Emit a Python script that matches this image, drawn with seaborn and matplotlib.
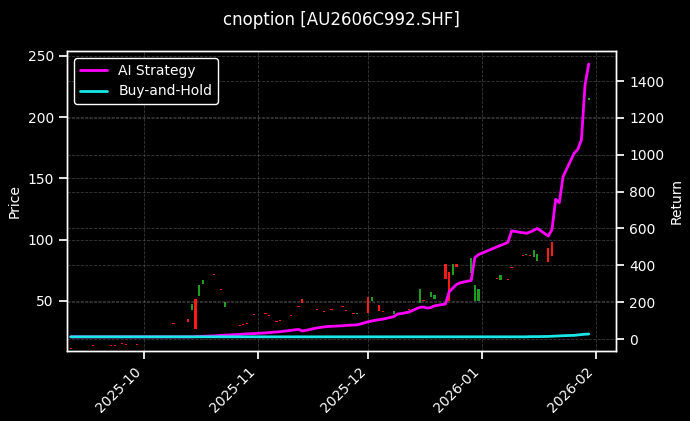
import matplotlib
matplotlib.use("Agg")
import matplotlib.pyplot as plt
import matplotlib.dates as mdates
import numpy as np
import pandas as pd
import seaborn as sns

# exchange holidays that fall on weekdays in the window
HOLIDAYS = ["2025-10-01", "2025-10-02", "2025-10-03", "2025-10-06",
            "2025-10-07", "2025-10-08", "2026-01-01", "2026-01-02"]

# candle bodies (None = no quote that day), one entry per trading day
candle_open = [
    # Sep 11 .. Sep 30
    10.5, None, None, None, 13.5, None, None, 13.5, 13.5, None, 15, 14, 14, None,
    # Oct 9 .. Oct 31
    31, None, 35, 43, 52, 54, 64, 71, None, 59, 45, None, 30, 30.5, 31, None, 38.5,
    # Nov 3 .. Nov 28
    39.6, 37.6, None, 32.6, 33.5, 38, None, 45, 52, None,
    43, None, 41, None, 42.7, 45, 41.5, None, 39.6, 39,
    # Dec 1 .. Dec 31
    53, 49.7, None, 46.7, 41, 39.6, None, None, None, 43, 48.4, 50,
    None, 53.5, 52, 80, 74, 71.6, 80.6, None, 72.8, 49.7, 49.7,
    # Jan 5 .. Jan 30
    68, 66.8, None, 67, 77, 86.6, 87.5, 87, 85.8, 82.6, 93, 98.4,
    None, None, None, None, None, None, None, 214,
]
candle_close = [
    10.5, None, None, None, 13.5, None, None, 13.5, 13.5, None, 15, 14, 14, None,
    31, None, 33, 47.5, 27, 63, 67, 71, None, 59, 49, None, 30, 30.5, 31, None, 38.5,
    39.6, 37.6, None, 32.6, 33.5, 38, None, 45, 48, None,
    43, None, 41, None, 42.7, 45, 41.5, None, 39.6, 40.5,
    40.5, 53, None, 41.5, 41, 41.5, None, None, None, 43, 60, 50,
    None, 57.6, 54.5, 68, 49.7, 80.6, 78, None, 85, 63, 60,
    68, 71.4, None, 67, 77, 86.6, 88.5, 87, 91.5, 88, 81.5, 86.5,
    None, None, None, None, None, None, None, 216,
]

ai_return = [
    12, 12, 12, 12, 12, 12, 12, 12, 12, 12, 12, 12, 12, 12,
    12, 12, 12, 12, 13, 14, 15, 17, 18, 20, 21, 22, 25, 27, 28, 29, 30,
    33, 35, 37, 38, 40, 47, 50, 52, 44, 47, 60, 63, 66, 68, 69, 72, 74, 75, 76, 77,
    94, 98, 102, 105, 108, 122, 136, 138, 142, 146, 172, 174, 168, 171, 180,
    190, 256, 276, 296, 305, 318, 442, 458,
    500, 508, 516, 525, 587, 577, 574, 580, 590, 600, 559, 595,
    758, 740, 881, 1007, 1029, 1080, 1380, 1492,
]
bh_return = [
    12, 12, 12, 12, 12, 12, 12, 12, 12, 12, 12, 12, 12, 12,
    12, 12, 12, 12, 12, 12, 12, 12, 12, 12, 12, 12, 12, 12, 12, 12, 12,
    12, 12, 12, 12, 12, 12, 12, 12, 12, 12, 12, 12, 12, 12, 12, 12, 12, 12, 12, 12,
    12, 12, 12, 12, 12, 12, 12, 12, 12, 12, 12, 12, 12, 12, 12,
    12, 12, 12, 12, 12, 12, 12, 12,
    12, 12, 12, 12, 12, 12, 12, 13, 13, 13, 14, 15,
    16, 17, 18, 20, 22, 24, 26, 27,
]

TITLE = "cnoption [AU2606C992.SHF]"

trade_dates = pd.bdate_range("2025-09-11", "2026-01-30")
trade_dates = trade_dates[~trade_dates.isin(pd.to_datetime(HOLIDAYS))]

df = pd.DataFrame({
    "date": trade_dates,
    "open": pd.to_numeric(pd.Series(candle_open), errors="coerce"),
    "close": pd.to_numeric(pd.Series(candle_close), errors="coerce"),
    "ai": ai_return,
    "bh": bh_return,
})

sns.set_theme(style="ticks", rc={
    "figure.facecolor": "black",
    "axes.facecolor": "black",
    "axes.edgecolor": "white",
    "axes.labelcolor": "white",
    "text.color": "white",
    "xtick.color": "white",
    "ytick.color": "white",
    "axes.linewidth": 1.0,
    "xtick.labelsize": 10,
    "ytick.labelsize": 10,
    "axes.labelsize": 10,
    "legend.fontsize": 10,
})
plt.rcParams["font.family"] = ["DejaVu Sans"]

fig, ax = plt.subplots(figsize=(6.9, 4.21), dpi=100)
fig.subplots_adjust(left=67 / 690, right=616 / 690, top=1 - 51 / 421, bottom=1 - 351 / 421)

# candlestick bodies on the price axis
candles = df.dropna(subset=["open", "close"])
up = candles["close"] > candles["open"]
body_low = np.minimum(candles["open"], candles["close"])
body_h = np.maximum((candles["close"] - candles["open"]).abs(), 0.8)
ax.bar(candles["date"], body_h, bottom=body_low, width=0.6,
       color=np.where(up, "#1e9e1e", "#ff1a1a"), linewidth=0)
ax.set_ylim(9.2, 254)
ax.set_ylabel("Price")
ax.grid(True, linestyle="--", color="gray", alpha=0.45, linewidth=0.6)

ax2 = ax.twinx()
sns.lineplot(data=df, x="date", y="ai", ax=ax2, color="magenta", linewidth=2, label="AI Strategy")
sns.lineplot(data=df, x="date", y="bh", ax=ax2, color="#19e6e6", linewidth=2, label="Buy-and-Hold")
ax2.set_ylim(-65, 1563)
ax2.set_ylabel("Return")
ax2.grid(True, linestyle="--", color="gray", alpha=0.45, linewidth=0.6)
for side in ["top", "right", "left", "bottom"]:
    ax2.spines[side].set_visible(True)
    ax2.spines[side].set_color("white")
    ax.spines[side].set_color("white")
ax2.legend(loc="upper left", facecolor="black", edgecolor="white", labelcolor="white", framealpha=1.0)

ax.set_xlim(pd.Timestamp("2025-09-10"), pd.Timestamp("2026-02-06 10:00"))
ax.xaxis.set_major_locator(mdates.MonthLocator())
ax.xaxis.set_major_formatter(mdates.DateFormatter("%Y-%m"))
ax2.set_xlabel("")
plt.setp(ax.get_xticklabels(), rotation=45, ha="right")

fig.suptitle(TITLE, fontsize=12, x=0.495, y=0.975)

fig.savefig("out.png", dpi=100, facecolor="black")
